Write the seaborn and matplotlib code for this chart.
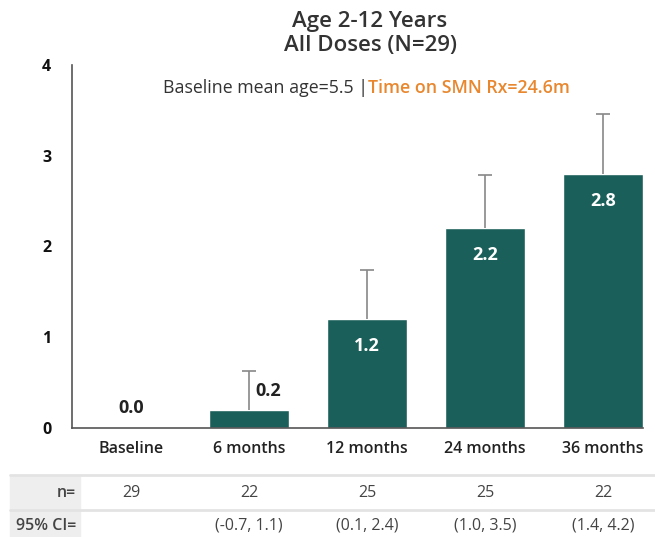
import matplotlib
matplotlib.use("Agg")
import matplotlib.pyplot as plt
import matplotlib.transforms as mtransforms
from matplotlib.patches import Rectangle
from matplotlib.lines import Line2D
import seaborn as sns

categories = ["Baseline", "6 months", "12 months", "24 months", "36 months"]
mean_change = [0.0, 0.2, 1.2, 2.2, 2.8]
se_upper = [0.0, 0.42, 0.54, 0.59, 0.66]
n_counts = ["29", "22", "25", "25", "22"]
ci_labels = ["", "(-0.7, 1.1)", "(0.1, 2.4)", "(1.0, 3.5)", "(1.4, 4.2)"]

sns.set_style("white")
plt.rcParams["font.family"] = ["Open Sans", "DejaVu Sans"]

bar_color = "#1b5f5a"
dark = "#333333"
orange = "#e8872e"

fig = plt.figure(figsize=(6.55, 5.37), dpi=100)
ax = fig.add_axes([72 / 655, 1 - 427.7 / 537, (643 - 72) / 655, (427.7 - 65) / 537])

sns.barplot(x=categories, y=mean_change, color=bar_color, width=0.68,
            saturation=1, ax=ax)
xs = list(range(len(categories)))
eb = ax.errorbar(xs[1:], mean_change[1:], yerr=[[0] * 4, se_upper[1:]], fmt="none",
                 ecolor="#888888", elinewidth=1.2, capsize=5, capthick=1.2, zorder=1)
eb[1][0].set_visible(False)  # no cap at the bar top

ax.set_ylim(0, 4)
ax.set_xlim(-0.5, 4.34)
ax.set_yticks([0, 1, 2, 3, 4])
ax.set_xticks([0.5, 1.5, 2.5, 3.5])
ax.set_xticklabels([])
ax.tick_params(axis="both", direction="out", length=5, width=1, color="#555555")
ax.tick_params(axis="y", labelsize=11.5, pad=10, labelcolor="#111111")
for lbl in ax.get_yticklabels():
    lbl.set_fontweight("bold")
for s in ["top", "right"]:
    ax.spines[s].set_visible(False)
for s in ["left", "bottom"]:
    ax.spines[s].set_color("#555555")
    ax.spines[s].set_linewidth(1.2)
ax.set_xlabel("")
ax.set_ylabel("")

# category labels
for x, c in zip(xs, categories):
    ax.text(x, -0.24, c, ha="center", va="center", fontsize=11.5,
            fontweight="semibold", color="#222222")

# value labels
ax.text(0, 0.22, f"{mean_change[0]:.1f}", ha="center", va="center",
        fontsize=13, fontweight="bold", color="#222222")
ax.text(1.16, 0.4, f"{mean_change[1]:.1f}", ha="center", va="center",
        fontsize=13, fontweight="bold", color="#222222")
for x in xs[2:]:
    ax.text(x, mean_change[x] - 0.3, f"{mean_change[x]:.1f}", ha="center",
            va="center", fontsize=13, fontweight="bold", color="white")

# titles
fig.text(370 / 655, 1 - 21 / 537, "Age 2-12 Years", ha="center", va="center",
         fontsize=16, fontweight="semibold", color=dark)
fig.text(370 / 655, 1 - 46 / 537, "All Doses (N=29)", ha="center", va="center",
         fontsize=16, fontweight="semibold", color=dark)
t1 = fig.text(163 / 655, 1 - 88 / 537, "Baseline mean age=5.5 |", ha="left",
              va="center", fontsize=12.8, color=dark)
fig.canvas.draw()
bb = t1.get_window_extent()
fig.text(bb.x1 / fig.bbox.width, 1 - 88 / 537, "Time on SMN Rx=24.6m", ha="left",
         va="center", fontsize=12.8, fontweight="semibold", color=orange)

# table below
fig.patches.append(Rectangle((10 / 655, 0), 70 / 655, 1 - 476 / 537,
                             transform=fig.transFigure, color="#eeeeee", zorder=0))
for yline in [475, 510]:
    fig.lines.append(Line2D([10 / 655, 1], [1 - yline / 537] * 2,
                            transform=fig.transFigure, color="#e3e3e3", lw=2))
trans = mtransforms.blended_transform_factory(ax.transData, fig.transFigure)
fig.text(76 / 655, 1 - 493 / 537, "n=", ha="right", va="center", fontsize=11.5,
         fontweight="semibold", color="#444444")
fig.text(76 / 655, 1 - 526 / 537, "95% CI=", ha="right", va="center", fontsize=11.5,
         fontweight="semibold", color="#444444")
for x, n, ci in zip(xs, n_counts, ci_labels):
    ax.text(x, 1 - 493 / 537, n, transform=trans, ha="center", va="center",
            fontsize=11.5, color="#444444")
    ax.text(x, 1 - 526 / 537, ci, transform=trans, ha="center", va="center",
            fontsize=11.5, color="#444444")

fig.savefig("out.png", dpi=100)
